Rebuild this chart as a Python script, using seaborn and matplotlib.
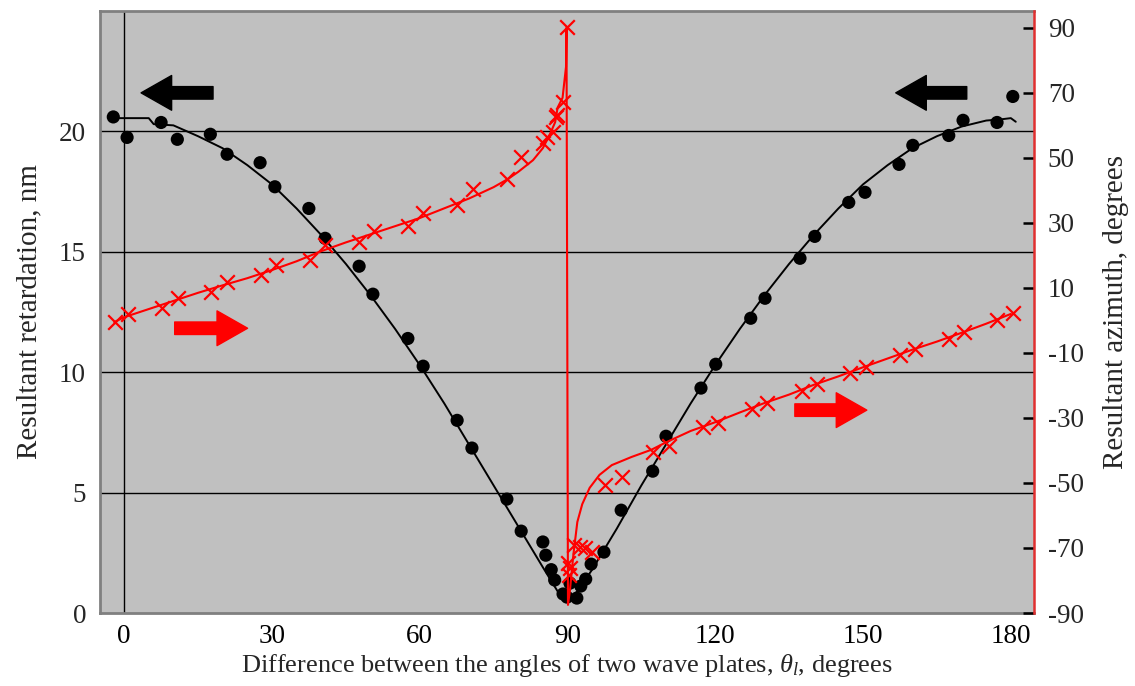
import matplotlib
matplotlib.use("Agg")
import matplotlib.pyplot as plt
import seaborn as sns
import pandas as pd
from matplotlib.patches import FancyArrowPatch

# measured retardation (black dots), nm
ret_angle = [-2.2, 0.6, 7.5, 10.8, 17.5, 20.9, 27.6, 30.6, 37.5, 40.8, 47.7, 50.5,
             57.6, 60.7, 67.6, 70.6, 77.7, 80.6, 85.0, 85.6, 86.7, 87.4, 89.1, 89.9,
             90.5, 91.9, 92.7, 93.7, 94.8, 97.4, 100.9, 107.3, 110.0, 117.1, 120.1,
             127.2, 130.1, 137.2, 140.2, 147.1, 150.4, 157.3, 160.1, 167.4, 170.3,
             177.2, 180.4]
ret_meas = [20.6, 19.75, 20.37, 19.67, 19.88, 19.05, 18.7, 17.7, 16.8, 15.56, 14.4, 13.24,
            11.4, 10.25, 8.0, 6.85, 4.73, 3.4, 2.95, 2.4, 1.8, 1.37, 0.79, 0.66,
            1.24, 0.62, 1.12, 1.41, 2.03, 2.53, 4.27, 5.89, 7.34, 9.34, 10.33,
            12.24, 13.07, 14.73, 15.64, 17.05, 17.47, 18.63, 19.42, 19.83, 20.46,
            20.37, 21.45]

# calculated retardation (black line), nm
ret_line_angle = [-2, 0, 5, 6, 10, 15, 20, 25, 30, 35, 40, 45, 50, 55, 60, 65, 70, 75,
                  80, 85, 88, 90, 92, 95, 100, 105, 110, 115, 120, 125, 130, 135, 140,
                  145, 150, 155, 160, 165, 170, 175, 178, 180, 181]
ret_line = [20.55, 20.55, 20.55, 20.3, 20.25, 19.8, 19.3, 18.6, 17.8, 16.8, 15.7, 14.5,
            13.2, 11.8, 10.3, 8.7, 7.0, 5.3, 3.6, 1.9, 0.9, 0.5, 0.9, 1.8, 3.5, 5.3,
            7.0, 8.7, 10.3, 11.8, 13.2, 14.5, 15.7, 16.8, 17.8, 18.6, 19.3, 19.8,
            20.2, 20.45, 20.5, 20.55, 20.4]

# measured azimuth (red crosses), degrees
az_angle = [-1.8, 0.8, 7.7, 11.0, 17.7, 20.9, 27.8, 30.8, 37.7, 40.8, 47.7, 50.7,
            57.6, 60.7, 67.6, 70.8, 77.7, 80.6, 85.0, 85.8, 87.0, 87.7, 87.9, 89.1,
            89.9, 90.1, 90.5, 90.3, 91.3, 92.5, 93.5, 95.0, 97.6, 101.0, 107.3, 110.6,
            117.5, 120.5, 127.4, 130.5, 137.6, 140.6, 147.3, 150.6, 157.5, 160.5,
            167.4, 170.5, 177.2, 180.4]
az_meas = [-0.5, 2.0, 3.9, 6.9, 8.8, 11.8, 14.0, 17.1, 18.6, 23.2, 24.2, 27.5,
           29.1, 33.1, 35.5, 40.5, 43.5, 50.3, 54.6, 56.5, 58.0, 62.6, 63.2, 67.2,
           90.3, -74.6, -76.2, -78.3, -69.1, -69.7, -70.0, -71.2, -50.6, -48.2, -40.5, -38.6,
           -32.8, -31.5, -27.2, -25.4, -21.7, -19.5, -16.2, -14.3, -10.6, -8.8,
           -5.7, -3.5, 0.2, 2.3]

# calculated azimuth (red line), degrees
az_line_angle = [-2, 0, 5, 10, 15, 20, 25, 30, 35, 40, 45, 50, 55, 60, 65, 70, 75, 77.9,
                 80, 83, 85, 86.5, 87.5, 88, 89, 89.7, 89.8, 90.1, 90.5, 91.2, 92, 93,
                 94.5, 96.5, 99, 103, 107, 110, 115, 120, 125, 130, 135, 140, 145, 150,
                 155, 160, 165, 170, 175, 180]
az_line = [-0.5, 1.0, 3.5, 6.0, 8.5, 10.8, 13.0, 15.5, 18.2, 21.3, 24.0, 26.5, 29.0,
           31.5, 34.5, 37.5, 41.0, 43.5, 45.7, 49.3, 53.0, 57.5, 61.0, 65.5, 68.5,
           78.0, 90.0, -87.5, -83.0, -72.0, -62.0, -56.5, -51.5, -47.5, -44.5, -42.0,
           -39.8, -37.5, -34.0, -31.3, -28.3, -25.4, -22.8, -19.8, -17.2, -14.4,
           -11.7, -9.0, -6.5, -3.8, -1.0, 2.0]

ret_ticks = [0, 5, 10, 15, 20]
az_ticks = [-90, -70, -50, -30, -10, 10, 30, 50, 70, 90]

sns.set_style("white")
plt.rcParams['font.family'] = ['Liberation Serif', 'DejaVu Serif']
plt.rcParams['mathtext.fontset'] = 'custom'
plt.rcParams['mathtext.rm'] = 'Liberation Serif'
plt.rcParams['mathtext.it'] = 'Liberation Serif:italic'
plt.rcParams['axes.unicode_minus'] = False

fig = plt.figure(figsize=(11.35, 6.86), dpi=100)
ax = fig.add_axes([0.0881, 0.1064, 0.8229, 0.8776])
ax.set_facecolor('#c0c0c0')
ax2 = ax.twinx()

# grid lines
for t in ret_ticks[1:]:
    ax.axhline(t, color='black', lw=1, zorder=1)
ax.axvline(0, color='black', lw=1, zorder=1)

sns.lineplot(x=ret_line_angle, y=ret_line, ax=ax, color='black', lw=1.4,
             sort=False, estimator=None, zorder=3)
sns.scatterplot(x=ret_angle, y=ret_meas, ax=ax, color='black', s=90,
                edgecolor='none', zorder=4)

sns.lineplot(x=az_line_angle, y=az_line, ax=ax2, color='red', lw=1.5,
             sort=False, estimator=None, zorder=3)
sns.scatterplot(x=az_angle, y=az_meas, ax=ax2, color='red', marker='x', s=110,
                linewidth=1.6, zorder=4)

ax.set_xlim(-4.9, 184.7)
ax.set_ylim(0, 25)
ax2.set_ylim(-90, 95.2)

xt = list(range(0, 181, 10))
ax.set_xticks(xt)
ax.set_xticklabels([str(v) if v % 30 == 0 else '' for v in xt])
ax.set_xticks(list(range(5, 181, 10)), minor=True)
ax.set_yticks(ret_ticks)
ax.tick_params(axis='x', which='major', direction='in', length=7, width=1.5,
               labelsize=19.5, pad=8, colors='black')
ax.tick_params(axis='x', which='minor', direction='in', length=3, width=1.2, color='black')
ax.tick_params(axis='y', length=0, labelsize=19.5, pad=10)

ax2.set_yticks(az_ticks)
ax2.tick_params(axis='y', direction='in', length=8, width=1.8, labelsize=19.5, pad=10,
                color='black')

for side in ['left', 'top', 'bottom']:
    ax.spines[side].set_color('#808080')
    ax.spines[side].set_linewidth(2)
    ax2.spines[side].set_visible(False)
ax.spines['right'].set_visible(False)
ax2.spines['right'].set_color('#e03030')
ax2.spines['right'].set_linewidth(1.8)

ax.set_xlabel('Difference between the angles of two wave plates, $\\mathit{\\theta_l}$, degrees',
              fontsize=19, labelpad=2)
ax.set_ylabel('Resultant retardation, nm', fontsize=21, labelpad=12)
ax2.set_ylabel('Resultant azimuth, degrees', fontsize=21, labelpad=14)

# direction arrows
arrows = [((0.124, 0.864), (0.041, 0.864), 'black'),
          ((0.931, 0.864), (0.849, 0.864), 'black'),
          ((0.077, 0.473), (0.161, 0.473), 'red'),
          ((0.741, 0.337), (0.824, 0.337), 'red')]
for tail, head, c in arrows:
    arr = FancyArrowPatch(tail, head, transform=ax.transAxes,
                          arrowstyle='simple,head_width=1.25,head_length=1.1,tail_width=0.45',
                          mutation_scale=20, fc=c, ec=c, lw=1, joinstyle='round',
                          capstyle='round', zorder=5)
    ax.add_patch(arr)

fig.savefig('out.png', dpi=100)
